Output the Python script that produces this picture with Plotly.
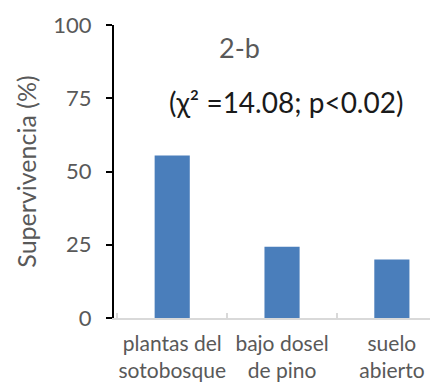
import plotly.graph_objects as go

categories = ["plantas del<br>sotobosque", "bajo dosel<br>de pino", "suelo<br>abierto"]
survival = [55.5, 24.3, 20.0]
y_ticks = [0, 25, 50, 75, 100]

# page body has an 8px margin; figure sized so the plot area lands where the reference has it
OFF = 8
FW, FH = 438 - OFF, 385 - OFF
L, R, T, B = 114 - OFF, 0, 25 - OFF, FH - (318 - OFF)
W, H = FW - L - R, FH - T - B

def px(x):
    return (x - OFF - L) / W

def py(y):
    return (FH - B - (y - OFF)) / H

fig = go.Figure(go.Bar(
    x=categories, y=survival,
    marker=dict(color="#4a7ebb", line=dict(width=0)),
    width=0.32,
))

fig.update_layout(
    width=FW, height=FH,
    margin=dict(l=L, r=R, t=T, b=B, autoexpand=False),
    paper_bgcolor="white", plot_bgcolor="white",
    font=dict(family="Lato", color="#595959"),
    showlegend=False,
    annotations=[
        dict(text="2-b", x=px(239), y=py(47), xref="paper", yref="paper", showarrow=False,
             xanchor="center", yanchor="middle",
             font=dict(size=27, color="#595959")),
        dict(text="(χ² =14.08; p<0.02)", x=px(286), y=py(102), xref="paper", yref="paper",
             showarrow=False, xanchor="center", yanchor="middle",
             font=dict(size=28, color="#1a1a1a")),
    ],
)

fig.update_xaxes(
    type="category", range=[-0.53, 2.42], automargin=False,
    showline=True, linecolor="#d9d9d9", linewidth=1.5,
    ticks="inside", tickson="boundaries", ticklen=5, tickcolor="#d9d9d9", tickwidth=1.5,
    tickfont=dict(size=21, color="#595959"), tickangle=0,
    ticklabelstandoff=6,
    showgrid=False, zeroline=False,
)
fig.update_yaxes(
    range=[0, 100], tickvals=y_ticks, automargin=False,
    showline=True, linecolor="black", linewidth=2,
    ticks="outside", ticklen=6, tickcolor="black", tickwidth=2,
    tickfont=dict(size=22, color="#595959"),
    ticklabelstandoff=10,
    showgrid=False, zeroline=False,
    title=dict(text="Supervivencia (%)", font=dict(size=25, color="#595959"), standoff=10),
)

fig.write_html("out.html")
